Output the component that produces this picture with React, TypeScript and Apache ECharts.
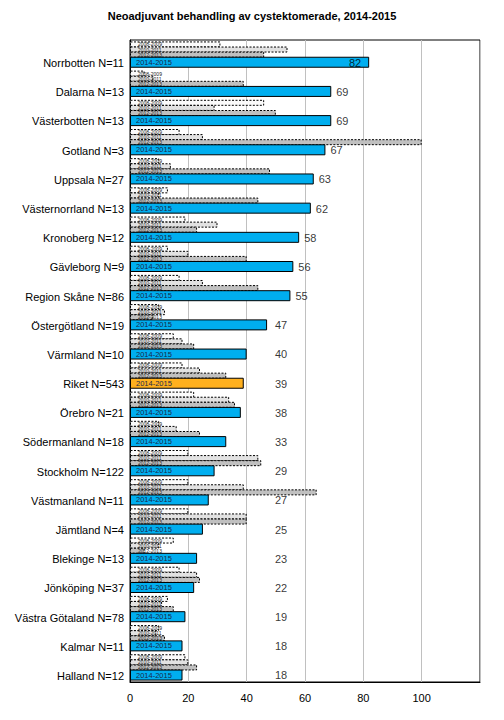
import React, { useEffect, useRef } from "react";
import * as echarts from "echarts";

const categories = [
  "Norrbotten N=11", "Dalarna N=13", "Västerbotten N=13", "Gotland N=3", "Uppsala N=27",
  "Västernorrland N=13", "Kronoberg N=12", "Gävleborg N=9", "Region Skåne N=86",
  "Östergötland N=19", "Värmland N=10", "Riket N=543", "Örebro N=21", "Södermanland N=18",
  "Stockholm N=122", "Västmanland N=11", "Jämtland N=4", "Blekinge N=13", "Jönköping N=37",
  "Västra Götaland N=78", "Kalmar N=11", "Halland N=12",
];
const periodNames = ["2008-2009", "2010-2011", "2012-2013", "2014-2015"];
const values0809 = [31, 5, 46, 17, 10, 13, 19, 13, 17, 10, 15, 18, 22, 10, 20, 20, 20, 15, 17, 13, 10, 19];
const values1011 = [54, 8, 29, 25, 14, 10, 30, 20, 25, 12, 18, 24, 34, 16, 44, 39, 40, 10, 23, 11, 9, 20];
const values1213 = [46, 39, 50, 100, 48, 44, 23, 40, 44, 8, 22, 33, 36, 24, 45, 64, 40, 5, 24, 15, 12, 23];
const values1415 = [82, 69, 69, 67, 63, 62, 58, 56, 55, 47, 40, 39, 38, 33, 29, 27, 25, 23, 22, 19, 18, 18];
const xMin = 0;
const xMax = 120;
const xInterval = 20;
const title = "Neoadjuvant behandling av cystektomerade, 2014-2015";

const FONT = "'Liberation Sans', Arial, sans-serif";

export default function App() {
  const ref = useRef<HTMLDivElement>(null);
  useEffect(() => {
    if (!ref.current) return;
    const chart = echarts.init(ref.current, null, { renderer: "svg" });
    const oldStyles = [
      { color: "#fbfbfb" },
      { color: "#e2e2e2" },
      { color: "#c0c0c0" },
    ];
    const oldData = [values0809, values1011, values1213];
    const oldSeries = oldData.map((vals, si) => ({
      type: "bar",
      name: periodNames[si],
      data: vals,
      barWidth: 6,
      barGap: "-15%",
      barCategoryGap: "0%",
      itemStyle: {
        color: oldStyles[si].color,
        borderColor: "#000",
        borderWidth: 1,
        borderType: [2, 1.5],
      },
      label: {
        show: true,
        position: "insideLeft",
        distance: 8,
        formatter: periodNames[si],
        fontSize: 5,
        fontFamily: FONT,
        color: "#222",
      },
    }));
    const mainData = values1415.map((v, i) => ({
      value: v,
      itemStyle: { color: categories[i].startsWith("Riket") ? "#ffb01e" : "#00aeef" },
    }));
    const labelData = values1415.map((v, i) => {
      const inside = v >= 75;
      return {
        value: [inside ? v : Math.max(v, 48), i],
        label: {
          position: inside ? "left" : "right",
          distance: inside ? 8 : 5,
        },
      };
    });
    chart.setOption({
      animation: false,
      textStyle: { fontFamily: FONT },
      title: {
        text: title,
        left: "center",
        top: 5,
        textStyle: { fontSize: 11, fontWeight: "bold", color: "#000", fontFamily: FONT },
      },
      grid: {
        left: 130,
        right: 24,
        top: 40,
        bottom: 38,
        show: true,
        borderColor: "#000",
        borderWidth: 1,
        backgroundColor: "transparent",
      },
      xAxis: {
        type: "value",
        min: xMin,
        max: xMax,
        interval: xInterval,
        axisLine: { show: true, lineStyle: { color: "#000" } },
        axisTick: { show: false },
        axisLabel: { showMaxLabel: false, fontSize: 11, color: "#000", margin: 10, fontFamily: FONT },
        splitLine: { show: true, lineStyle: { color: "#c0c0c0", width: 1 } },
      },
      yAxis: {
        type: "category",
        data: categories,
        inverse: true,
        axisLine: { show: true, lineStyle: { color: "#000" } },
        axisTick: { show: false },
        axisLabel: {
          fontSize: 11,
          color: "#000",
          margin: 6,
          verticalAlign: "top",
          lineHeight: 17,
          fontFamily: FONT,
        },
      },
      series: [
        ...oldSeries,
        {
          type: "bar",
          name: periodNames[3],
          data: mainData,
          barWidth: 11,
          barGap: "-15%",
          itemStyle: { borderColor: "#000", borderWidth: 1 },
          label: {
            show: true,
            position: "insideLeft",
            distance: 6,
            formatter: periodNames[3],
            fontSize: 7.5,
            fontFamily: FONT,
            color: "#1a2a4a",
          },
        },
        {
          type: "scatter",
          data: labelData,
          symbolSize: 0,
          silent: true,
          label: {
            show: true,
            offset: [0, 8],
            fontSize: 11,
            color: "#000",
            fontFamily: FONT,
            formatter: (p: any) => String(values1415[p.dataIndex]),
          },
          z: 10,
        },
      ],
    });
    return () => chart.dispose();
  }, []);
  return (
    <div
      ref={ref}
      style={{ position: "fixed", left: 0, top: 0, width: 504, height: 720, background: "#fff" }}
    />
  );
}
